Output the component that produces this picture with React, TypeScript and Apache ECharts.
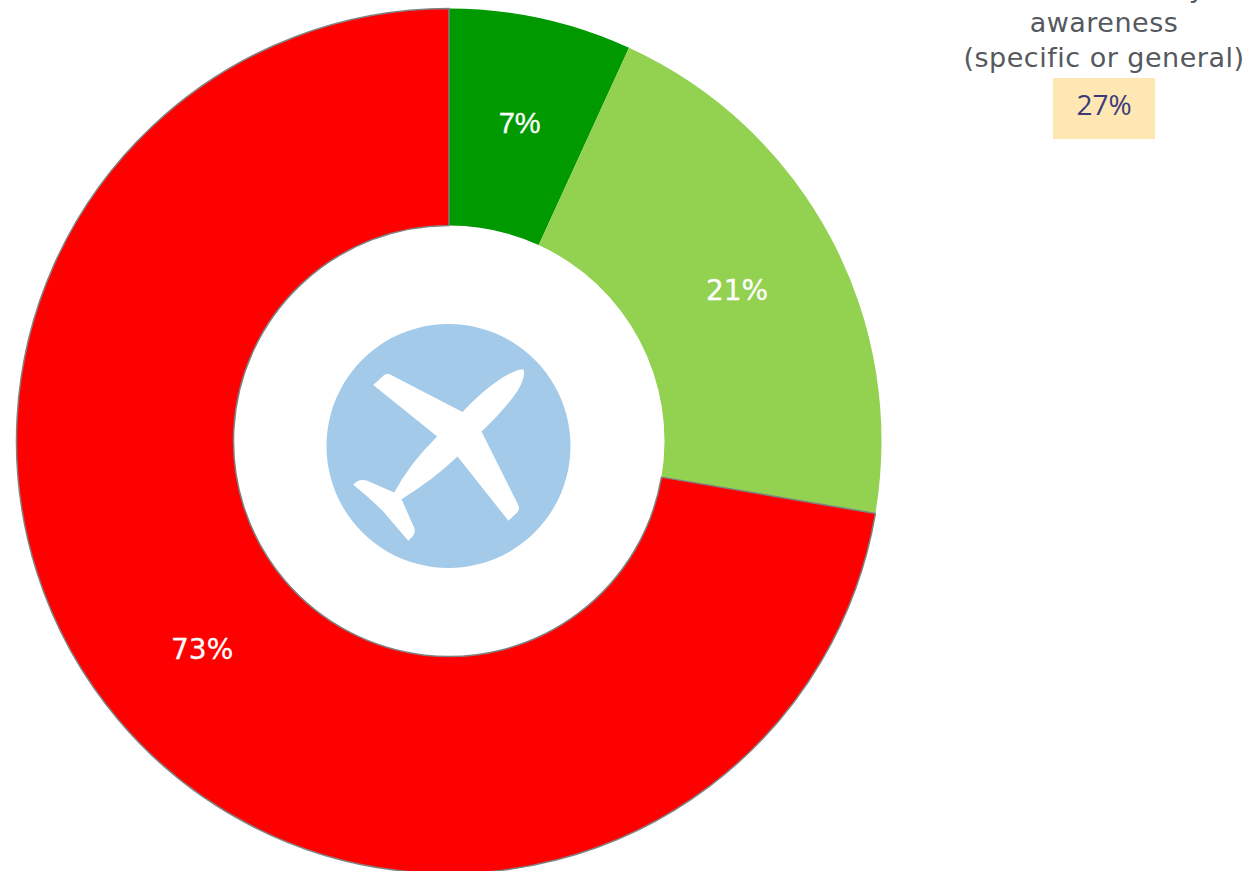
import React, { useEffect, useRef } from "react";
import * as echarts from "echarts";

const categories = ["High", "Medium", "Low"];
const values = [6.85, 20.9, 72.5];
const sliceColors = ["#009900", "#93D150", "#FF0000"];
const labelOffsets = [[1, 1], [-1, 2], [3, -2]];
const calloutLines = ["awareness", "(specific or general)"];
const calloutValue = "27%";

const PLANE =
  "M190 225 L222 196 Q232 188 245 196 L458 306 Q520 240 575 205 Q620 178 640 178 Q650 195 625 240 Q585 300 515 365 L625 585 Q632 598 622 608 L596 633 L443 440 Q370 510 275 568 L313 655 Q318 668 308 680 L295 693 Q250 640 220 605 Q180 565 130 525 Q145 505 170 512 L253 548 Q300 460 382 380 Z";
echarts.graphic.registerShape("plane", (echarts.graphic as any).extendPath(PLANE, {}));

const FONT = "'DejaVu Sans', sans-serif";
const GREY = "#55595E";

export default function App() {
  const ref = useRef<HTMLDivElement>(null);
  useEffect(() => {
    const chart = echarts.init(ref.current!, undefined, { renderer: "svg" });
    chart.setOption({
      animation: false,
      series: [
        {
          type: "pie",
          center: [449, 441],
          radius: [215.5, 432.5],
          startAngle: 90,
          clockwise: true,
          silent: true,
          avoidLabelOverlap: false,
          labelLine: { show: false },
          label: {
            show: true,
            position: "inside",
            formatter: (p: any) => `${Math.round(p.value)}%`,
            color: "#FFFFFF",
            fontFamily: FONT,
            fontSize: 28,
            textBorderColor: "#FFFFFF",
            textBorderWidth: 0.3,
          },
          data: categories.map((name, i) => ({
            name,
            value: values[i],
            label:
              i === 0
                ? { offset: labelOffsets[i], fontFamily: "'Liberation Sans', sans-serif", fontSize: 29 }
                : { offset: labelOffsets[i] },
            itemStyle:
              i === 2
                ? { color: sliceColors[i], borderColor: "#808080", borderWidth: 1.5 }
                : { color: sliceColors[i] },
          })),
        },
      ],
      graphic: [
        { type: "circle", shape: { cx: 448.5, cy: 446, r: 122 }, style: { fill: "#A3CAE9" } },
        { type: "plane", x: 310, y: 310, scaleX: 1 / 3, scaleY: 1 / 3, style: { fill: "#FFFFFF" } },
        {
          type: "text",
          x: 1197,
          y: -13,
          style: { text: "y", font: `27px ${FONT}`, fill: GREY, textAlign: "center", textVerticalAlign: "middle" },
        },
        ...calloutLines.map((text, i) => ({
          type: "text",
          x: 1104,
          y: 22 + i * 35,
          style: { text, font: `27px ${FONT}`, fill: GREY, textAlign: "center", textVerticalAlign: "middle" },
        })),
        { type: "rect", shape: { x: 1053, y: 78, width: 102, height: 61 }, style: { fill: "#FFE7B3" } },
        {
          type: "text",
          x: 1104,
          y: 104,
          style: { text: calloutValue, font: `28px 'Open Sans', sans-serif`, fill: "#3B3B7B", textAlign: "center", textVerticalAlign: "middle" },
        },
      ],
    });
    return () => chart.dispose();
  }, []);
  return (
    <>
      <style>{`svg text[fill="${GREY}"], svg text[fill="${GREY.toLowerCase()}"] { letter-spacing: 0.5px; }`}</style>
      <div ref={ref} style={{ position: "absolute", left: 0, top: 0, width: 1249, height: 871 }} />
    </>
  );
}
